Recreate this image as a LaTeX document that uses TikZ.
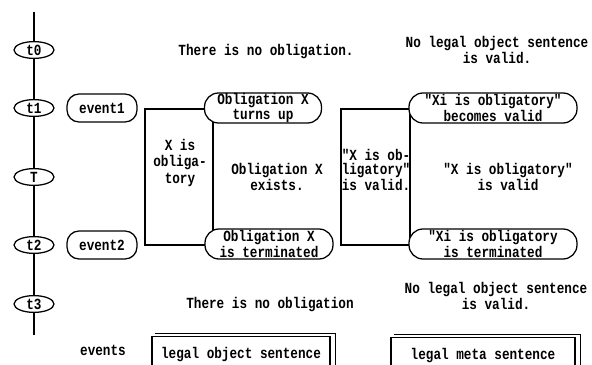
\documentclass[tikz,border=0pt]{standalone}
\usepackage{fontspec}
\setmonofont{Liberation Mono}[FakeStretch=0.82]
\usetikzlibrary{shapes.geometric}

\begin{document}
\begin{tikzpicture}[
  font=\fontsize{11}{11}\selectfont\ttfamily\bfseries,
  axis/.style={line width=1.3pt},
  tick/.style={draw,ellipse,line width=0.9pt,fill=white,inner sep=0pt,minimum width=1cm,minimum height=0.42cm},
  evbox/.style={draw,line width=0.9pt,rounded corners=0.3cm,minimum width=1.75cm,minimum height=0.7cm},
  spanbox/.style={draw,line width=0.9pt,minimum height=3.4cm},
  statebox/.style={draw,line width=0.9pt,fill=white,rounded corners=0.35cm,align=center,inner ysep=0pt,minimum height=0.75cm},
  txt/.style={align=center},
  legbox/.style={draw,line width=0.9pt,minimum height=0.9cm}
]
\useasboundingbox (0,0) rectangle (14.8,-9.125);
% time axis
\coordinate (tltop) at (0.85,-0.3);
\coordinate (tlbot) at (0.85,-8.375);
\node[tick] (t0) at (0.85,-1.25) {t0};
\node[tick] (t1) at (0.85,-2.7) {t1};
\node[tick] (T) at (0.85,-4.425) {T};
\node[tick] (t2) at (0.85,-6.125) {t2};
\node[tick] (t3) at (0.85,-7.6) {t3};
\draw[axis] (tltop)--(t0);
\draw[axis] (t0)--(t1);
\draw[axis] (t1)--(T);
\draw[axis] (T)--(t2);
\draw[axis] (t2)--(t3);
\draw[axis] (t3)--(tlbot);
\node[evbox] (ev1) at (2.55,-2.7) {event1};
\node[evbox] (ev2) at (2.55,-6.125) {event2};
% duration boxes
\node[spanbox,minimum width=1.7cm] (oblspan) at (4.475,-4.425) {};
\node[spanbox,minimum width=1.725cm] (valspan) at (9.3875,-4.425) {};
\node[txt,font=\fontsize{11}{11.5}\selectfont\ttfamily\bfseries] (obltxt) at (4.5,-4.075) {X is\\obliga-\\tory};
\node[txt,font=\fontsize{11}{9.6}\selectfont\ttfamily\bfseries,inner sep=0pt] (valtxt) at (9.4,-4.25) {"X is ob-\\ligatory"\\is valid.};
\node[statebox,minimum width=2.925cm] (oblup) at (6.575,-2.7) {Obligation X\\turns up};
\node[statebox,minimum width=3.2cm] (oblend) at (6.725,-6.1) {Obligation X\\is terminated};
\node[statebox,minimum width=4.2cm] (valup) at (12.325,-2.7) {"Xi is obligatory"\\becomes valid};
\node[statebox,minimum width=4.2cm] (valend) at (12.325,-6.1) {"Xi is obligatory\\is terminated};
\node[txt] (oblmid) at (6.925,-4.425) {Obligation X\\exists.};
\node[txt] (valmid) at (12.7,-4.425) {"X is obligatory"\\is valid};
% before and after
\node[txt] (noobl0) at (6.65,-1.3) {There is no obligation.};
\node[txt] (noval0) at (12.425,-1.25) {No legal object sentence\\is valid.};
\node[txt] (noobl1) at (6.75,-7.625) {There is no obligation};
\node[txt] (noval1) at (12.4,-7.4) {No legal object sentence\\is valid.};
% legend
\node (evlabel) at (2.575,-8.75) {events};
\node[legbox,minimum width=4.45cm,anchor=north] (objleg) at (6.025,-8.4) {legal object sentence};
\node[legbox,minimum width=4.6cm,anchor=north] (metaleg) at (12.075,-8.425) {legal meta sentence};
\draw[line width=0.6pt] ([xshift=0.08cm,yshift=0.06cm]objleg.north west) -- ([xshift=0.12cm,yshift=0.06cm]objleg.north east) -- ([xshift=0.12cm]objleg.south east);
\draw[line width=0.6pt] ([xshift=0.08cm,yshift=0.06cm]metaleg.north west) -- ([xshift=0.12cm,yshift=0.06cm]metaleg.north east) -- ([xshift=0.12cm]metaleg.south east);
\end{tikzpicture}
\end{document}
